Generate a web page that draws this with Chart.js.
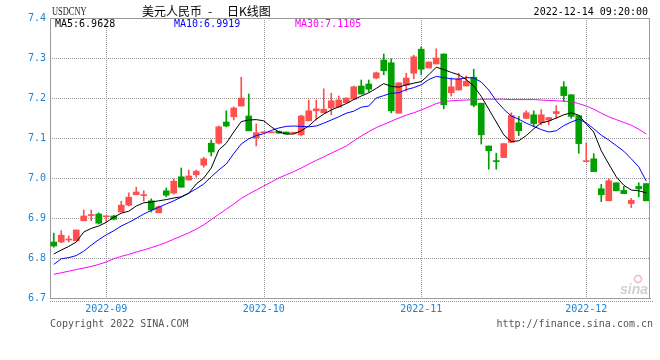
<!DOCTYPE html>
<html>
<head>
<meta charset="utf-8">
<script src="https://cdn.jsdelivr.net/npm/chart.js@4.4.0/dist/chart.umd.min.js"></script>
<style>
  html, body { margin: 0; padding: 0; background: #fff; }
  #wrap { width: 660px; height: 360px; }
</style>
</head>
<body>
<div id="wrap"><canvas id="kChart" width="660" height="360"></canvas></div>
<script>
// trading days shown (MM-DD, 2022)
const dates = [
  "08-23","08-24","08-25","08-26","08-29","08-30","08-31",
  "09-01","09-02","09-05","09-06","09-07","09-08","09-09","09-13","09-14","09-15","09-16",
  "09-19","09-20","09-21","09-22","09-23","09-26","09-27","09-28","09-29","09-30",
  "10-03","10-04","10-05","10-06","10-07","10-10","10-11","10-12","10-13","10-14",
  "10-17","10-18","10-19","10-20","10-21","10-24","10-25","10-26","10-27","10-28","10-31",
  "11-01","11-02","11-03","11-04","11-07","11-08","11-09","11-10","11-11",
  "11-14","11-15","11-16","11-17","11-18","11-21","11-22","11-23","11-24","11-25",
  "11-28","11-29","11-30",
  "12-01","12-02","12-05","12-06","12-07","12-08","12-09","12-12","12-13"
];

const open = [
  6.840, 6.840, 6.845, 6.843, 6.893, 6.906, 6.910, 6.903, 6.905, 6.915,
  6.932, 6.958, 6.956, 6.943, 6.913, 6.968, 6.962, 7.003, 6.995, 7.008,
  7.032, 7.087, 7.087, 7.140, 7.153, 7.180, 7.155, 7.100, 7.113, 7.113,
  7.117, 7.115, 7.112, 7.108, 7.143, 7.168, 7.163, 7.175, 7.177, 7.188,
  7.197, 7.230, 7.235, 7.250, 7.295, 7.288, 7.162, 7.232, 7.262, 7.322,
  7.275, 7.285, 7.310, 7.213, 7.220, 7.230, 7.252, 7.187, 7.080, 7.042,
  7.051, 7.089, 7.138, 7.149, 7.158, 7.138, 7.145, 7.161, 7.228, 7.208,
  7.156, 7.041, 7.048, 6.973, 6.943, 6.988, 6.969, 6.936, 6.979, 6.986
];
const high = [
  6.862, 6.868, 6.855, 6.870, 6.920, 6.920, 6.913, 6.905, 6.907, 6.942,
  6.963, 6.977, 6.968, 6.948, 6.930, 6.975, 6.998, 7.025, 7.020, 7.020,
  7.052, 7.095, 7.130, 7.168, 7.178, 7.252, 7.210, 7.135, 7.114, 7.114,
  7.117, 7.115, 7.113, 7.157, 7.195, 7.195, 7.223, 7.212, 7.205, 7.200,
  7.230, 7.245, 7.245, 7.265, 7.310, 7.298, 7.238, 7.262, 7.307, 7.328,
  7.290, 7.323, 7.310, 7.250, 7.262, 7.255, 7.272, 7.187, 7.080, 7.062,
  7.086, 7.163, 7.154, 7.168, 7.168, 7.171, 7.151, 7.181, 7.241, 7.209,
  7.156, 7.087, 7.061, 6.984, 6.998, 6.988, 6.979, 6.949, 6.988, 6.986
];
const low = [
  6.827, 6.838, 6.840, 6.843, 6.893, 6.893, 6.885, 6.890, 6.895, 6.915,
  6.930, 6.958, 6.942, 6.915, 6.913, 6.953, 6.960, 6.977, 6.995, 7.002,
  7.027, 7.055, 7.085, 7.128, 7.145, 7.180, 7.118, 7.080, 7.113, 7.113,
  7.112, 7.110, 7.112, 7.105, 7.143, 7.145, 7.163, 7.158, 7.177, 7.188,
  7.197, 7.210, 7.215, 7.248, 7.258, 7.163, 7.162, 7.217, 7.248, 7.258,
  7.275, 7.285, 7.173, 7.205, 7.220, 7.230, 7.178, 7.085, 7.022, 7.022,
  7.051, 7.089, 7.106, 7.149, 7.128, 7.133, 7.133, 7.149, 7.191, 7.149,
  7.062, 7.041, 7.016, 6.941, 6.943, 6.968, 6.961, 6.926, 6.953, 6.943
];
const close = [
  6.830, 6.857, 6.846, 6.870, 6.905, 6.907, 6.887, 6.904, 6.897, 6.932,
  6.952, 6.965, 6.957, 6.920, 6.928, 6.957, 6.992, 6.977, 7.005, 7.017,
  7.048, 7.065, 7.128, 7.130, 7.175, 7.200, 7.118, 7.113, 7.114, 7.114,
  7.112, 7.110, 7.113, 7.155, 7.168, 7.173, 7.172, 7.193, 7.195, 7.200,
  7.228, 7.210, 7.222, 7.263, 7.268, 7.168, 7.238, 7.250, 7.303, 7.272,
  7.290, 7.300, 7.183, 7.228, 7.248, 7.242, 7.182, 7.108, 7.068, 7.041,
  7.086, 7.156, 7.118, 7.163, 7.136, 7.158, 7.151, 7.166, 7.206, 7.154,
  7.086, 7.042, 7.016, 6.958, 6.993, 6.968, 6.961, 6.944, 6.973, 6.943
];

// moving averages as drawn on the chart
const ma5 = [
  6.810, 6.820, 6.829, 6.840, 6.865, 6.874, 6.880, 6.889, 6.902, 6.912,
  6.917, 6.930, 6.938, 6.940, 6.943, 6.946, 6.950, 6.953, 6.962, 6.985,
  7.000, 7.025, 7.070, 7.087, 7.115, 7.141, 7.145, 7.146, 7.143, 7.128,
  7.115, 7.110, 7.110, 7.118, 7.130, 7.147, 7.160, 7.170, 7.178, 7.186,
  7.196, 7.205, 7.213, 7.224, 7.236, 7.229, 7.227, 7.233, 7.237, 7.241,
  7.258, 7.277, 7.271, 7.264, 7.258, 7.246, 7.230, 7.204, 7.172, 7.140,
  7.108, 7.091, 7.093, 7.106, 7.123, 7.138, 7.142, 7.150, 7.158, 7.163,
  7.157, 7.135, 7.115, 7.068, 7.035, 7.003, 6.982, 6.970, 6.968, 6.963
];
const ma10 = [
  6.784, 6.798, 6.801, 6.806, 6.817, 6.832, 6.846, 6.858, 6.868, 6.880,
  6.889, 6.899, 6.910, 6.919, 6.927, 6.935, 6.943, 6.952, 6.962, 6.973,
  6.985, 7.003, 7.020, 7.035, 7.061, 7.085, 7.098, 7.106, 7.111, 7.119,
  7.125, 7.129, 7.130, 7.129, 7.128, 7.130, 7.137, 7.145, 7.153, 7.162,
  7.167, 7.177, 7.180, 7.200, 7.206, 7.212, 7.213, 7.221, 7.226, 7.233,
  7.246, 7.254, 7.251, 7.248, 7.247, 7.251, 7.250, 7.240, 7.220, 7.193,
  7.172, 7.155, 7.147, 7.137, 7.129, 7.121, 7.115, 7.118, 7.131, 7.140,
  7.147, 7.138, 7.123, 7.107, 7.095, 7.081, 7.067, 7.048, 7.028, 6.992
];
const ma30 = [
  6.759, 6.763, 6.767, 6.771, 6.775, 6.779, 6.784, 6.790, 6.798, 6.804,
  6.809, 6.815, 6.820, 6.826, 6.832, 6.839, 6.847, 6.855, 6.863, 6.872,
  6.883, 6.896, 6.909, 6.922, 6.935, 6.949, 6.960, 6.970, 6.980, 6.990,
  7.000, 7.008, 7.016, 7.025, 7.035, 7.044, 7.053, 7.062, 7.071, 7.080,
  7.093, 7.105, 7.116, 7.126, 7.134, 7.142, 7.150, 7.157, 7.163, 7.170,
  7.178, 7.186, 7.191, 7.193, 7.194, 7.195, 7.196, 7.197, 7.197, 7.197,
  7.197, 7.196, 7.196, 7.196, 7.196, 7.195, 7.194, 7.193, 7.192, 7.191,
  7.186, 7.180, 7.172, 7.162, 7.153, 7.146, 7.139, 7.132, 7.122, 7.110
];
const maNames = ["MA5", "MA10", "MA30"];
const maLast = ["6.9628", "6.9919", "7.1105"];

const monthLabels = ["2022-09", "2022-10", "2022-11", "2022-12"];
const monthFirst = ["09-01", "10-03", "11-01", "12-01"];
const yTicks = [6.7, 6.8, 6.9, 7.0, 7.1, 7.2, 7.3, 7.4];

const UP = "#ff5050";
const DOWN = "#00a000";
const AXIS_BLUE = "#1e82d2";
const GRID = "#999";
const MONO = "'DejaVu Sans Mono', monospace";

const colors = close.map((c, i) => (c >= open[i] ? UP : DOWN));
const wicks = dates.map((d, i) => [low[i], high[i]]);
const bodies = dates.map((d, i) => [Math.min(open[i], close[i]), Math.max(open[i], close[i])]);
const monthIdx = monthFirst.map(d => dates.indexOf(d));

// dotted grid, placed with the chart's own scales
const dottedGrid = {
  id: "dottedGrid",
  beforeDatasetsDraw(chart) {
    const { ctx, chartArea: a, scales } = chart;
    ctx.save();
    ctx.strokeStyle = GRID;
    ctx.lineWidth = 1;
    ctx.setLineDash([1, 1]);
    ctx.beginPath();
    yTicks.forEach(v => {
      const py = Math.round(scales.y.getPixelForValue(v)) + 0.5;
      ctx.moveTo(a.left, py);
      ctx.lineTo(a.right, py);
    });
    monthIdx.forEach(i => {
      const px = Math.round(scales.x.getPixelForValue(i)) + 0.5;
      ctx.moveTo(px, a.top);
      ctx.lineTo(px, a.bottom);
    });
    ctx.stroke();
    ctx.restore();
  }
};

// frame, header texts and footer
const decor = {
  id: "decor",
  afterDraw(chart) {
    const { ctx, chartArea: a } = chart;
    ctx.save();
    ctx.strokeStyle = "#999";
    ctx.lineWidth = 1;
    ctx.beginPath();
    ctx.moveTo(a.left, a.top + 0.5);
    ctx.lineTo(a.right - 0.5, a.top + 0.5);
    ctx.lineTo(a.right - 0.5, a.bottom);
    ctx.stroke();
    ctx.setLineDash([1, 1]);
    ctx.beginPath();
    ctx.moveTo(a.left, a.bottom + 3.5);
    ctx.lineTo(a.right + 4, a.bottom + 3.5);
    ctx.stroke();
    ctx.setLineDash([]);

    // symbol
    ctx.fillStyle = "#222";
    ctx.textBaseline = "middle";
    ctx.save();
    ctx.translate(52, 12);
    ctx.scale(0.7, 1);
    ctx.font = "12px 'Liberation Serif', serif";
    ctx.fillText("USDCNY", 0, 0);
    ctx.restore();

    // title
    ctx.fillStyle = "#000";
    ctx.font = "12px 'Noto Sans CJK SC', sans-serif";
    ctx.fillText("美元人民币", 142, 11);
    ctx.fillText("-", 208, 11);
    ctx.fillText("日K线图", 227, 11);

    // timestamp
    ctx.font = "10px " + MONO;
    ctx.textAlign = "right";
    ctx.fillText("2022-12-14 09:20:00", 648, 12);

    // MA legend
    ctx.textAlign = "left";
    const maColors = ["#000000", "#0000ff", "#ff00ff"];
    const maX = [55, 174, 295];
    maNames.forEach((n, i) => {
      ctx.fillStyle = maColors[i];
      ctx.fillText(n + ":" + maLast[i], maX[i], 24);
    });

    // footer
    ctx.fillStyle = "#555";
    ctx.fillText("Copyright 2022 SINA.COM", 50, 324);
    ctx.textAlign = "right";
    ctx.fillText("http://finance.sina.com.cn", 653, 324);

    // watermark
    ctx.textAlign = "left";
    ctx.fillStyle = "rgba(150,150,150,0.45)";
    ctx.font = "bold italic 14px 'Liberation Sans', sans-serif";
    ctx.fillText("sina", 620, 290);
    ctx.strokeStyle = "rgba(220,80,80,0.4)";
    ctx.lineWidth = 1.5;
    ctx.beginPath();
    ctx.arc(638, 279, 3.5, 0, Math.PI * 2);
    ctx.stroke();
    ctx.restore();
  }
};

new Chart(document.getElementById("kChart").getContext("2d"), {
  type: "bar",
  data: {
    labels: dates,
    datasets: [
      { type: "line", label: "MA5", data: ma5, borderColor: "#000000", borderWidth: 1, pointRadius: 0, tension: 0, order: 1 },
      { type: "line", label: "MA10", data: ma10, borderColor: "#0000ff", borderWidth: 1, pointRadius: 0, tension: 0, order: 1 },
      { type: "line", label: "MA30", data: ma30, borderColor: "#ff00ff", borderWidth: 1, pointRadius: 0, tension: 0, order: 1 },
      { label: "body", data: bodies, backgroundColor: colors, barThickness: 6, minBarLength: 1, grouped: false, order: 2 },
      { label: "wick", data: wicks, backgroundColor: colors, barThickness: 1, minBarLength: 1, grouped: false, order: 3 }
    ]
  },
  options: {
    responsive: false,
    animation: false,
    devicePixelRatio: 1,
    layout: { padding: { top: 18, right: 10, left: 0, bottom: 0 } },
    plugins: {
      legend: { display: false },
      tooltip: { enabled: false }
    },
    scales: {
      x: {
        offset: true,
        grid: { display: false, drawTicks: false },
        border: { display: true, color: "#999" },
        afterBuildTicks: s => { s.ticks = monthIdx.map(v => ({ value: v })); },
        afterFit: s => { s.height = 62; },
        ticks: {
          autoSkip: false,
          maxRotation: 0,
          padding: 5,
          color: AXIS_BLUE,
          font: { family: MONO, size: 10 },
          callback: (v, i) => monthLabels[i]
        }
      },
      y: {
        min: 6.7,
        max: 7.4,
        grid: { display: false, drawTicks: false },
        border: { display: true, color: "#999" },
        afterBuildTicks: s => { s.ticks = yTicks.map(v => ({ value: v })); },
        afterFit: s => { s.width = 50; },
        ticks: {
          padding: 4,
          color: AXIS_BLUE,
          font: { family: MONO, size: 10 },
          callback: v => v.toFixed(1)
        }
      }
    }
  },
  plugins: [dottedGrid, decor]
});
</script>
</body>
</html>
